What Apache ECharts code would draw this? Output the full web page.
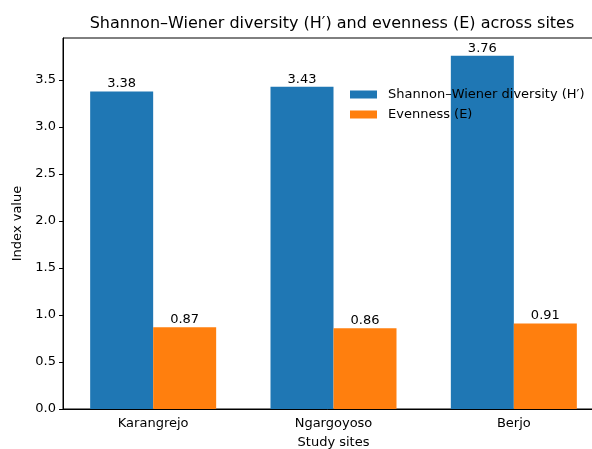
<!DOCTYPE html>
<html><head><meta charset="utf-8">
<script src="https://cdn.jsdelivr.net/npm/echarts@6/dist/echarts.min.js"></script>
<style>html,body{margin:0;padding:0;background:#fff}#c{width:592px;height:449px}</style>
</head><body><div id="c"></div>
<script>
const categories = ["Karangrejo", "Ngargoyoso", "Berjo"];
const shannon = [3.38, 3.43, 3.76];
const evenness = [0.87, 0.86, 0.91];
const seriesNames = ["Shannon–Wiener diversity (H′)", "Evenness (E)"];
const yTicks = [0, 0.5, 1, 1.5, 2, 2.5, 3, 3.5];

const font = "DejaVu Sans";
const chart = echarts.init(document.getElementById('c'), null, {renderer: 'canvas'});
const lbl = {show: true, position: 'top', distance: 1, color: '#000', fontFamily: font, fontSize: 13,
  formatter: p => p.value.toFixed(2)};
chart.setOption({
  animation: false,
  title: {text: "Shannon–Wiener diversity (H′) and evenness (E) across sites", left: 332, textAlign: 'center', top: 16, padding: 0,
    textStyle: {fontFamily: font, fontSize: 16, fontWeight: 'normal', color: '#000'}},
  legend: {orient: 'vertical', left: 350, top: 88, padding: 0, itemWidth: 27, itemHeight: 8, itemGap: 7, icon: 'rect',
    textStyle: {fontFamily: font, fontSize: 13, color: '#000', padding: [0, 0, 0, 6]}, data: seriesNames},
  grid: {left: 63, width: 541, top: 38, bottom: 40, outerBoundsMode: 'none', show: true, borderColor: '#000', borderWidth: 1, containLabel: false},
  xAxis: {type: 'category', data: categories, name: 'Study sites', nameLocation: 'middle', nameGap: 27,
    nameTextStyle: {fontFamily: font, fontSize: 13, color: '#000'},
    axisLine: {lineStyle: {color: '#000'}}, axisTick: {alignWithLabel: true, length: 4, lineStyle: {color: '#000'}},
    axisLabel: {fontFamily: font, fontSize: 13, color: '#000', margin: 8}},
  yAxis: {type: 'value', min: 0, max: 3.948, interval: 0.5, name: 'Index value', nameLocation: 'middle', nameGap: 36, nameRotate: 90,
    nameTextStyle: {fontFamily: font, fontSize: 13, color: '#000'},
    axisLine: {show: true, lineStyle: {color: '#000'}}, axisTick: {show: true, length: 4, lineStyle: {color: '#000'}},
    splitLine: {show: false},
    axisLabel: {fontFamily: font, fontSize: 13, color: '#000', margin: 7, showMaxLabel: false,
      formatter: v => yTicks.includes(v) ? v.toFixed(1) : ''}},
  series: [
    {name: seriesNames[0], type: 'bar', data: shannon, barWidth: 63, barGap: '0%', itemStyle: {color: '#1f77b4'}, label: lbl},
    {name: seriesNames[1], type: 'bar', data: evenness, barWidth: 63, barGap: '0%', itemStyle: {color: '#ff7f0e'}, label: lbl}
  ]
});
</script></body></html>
